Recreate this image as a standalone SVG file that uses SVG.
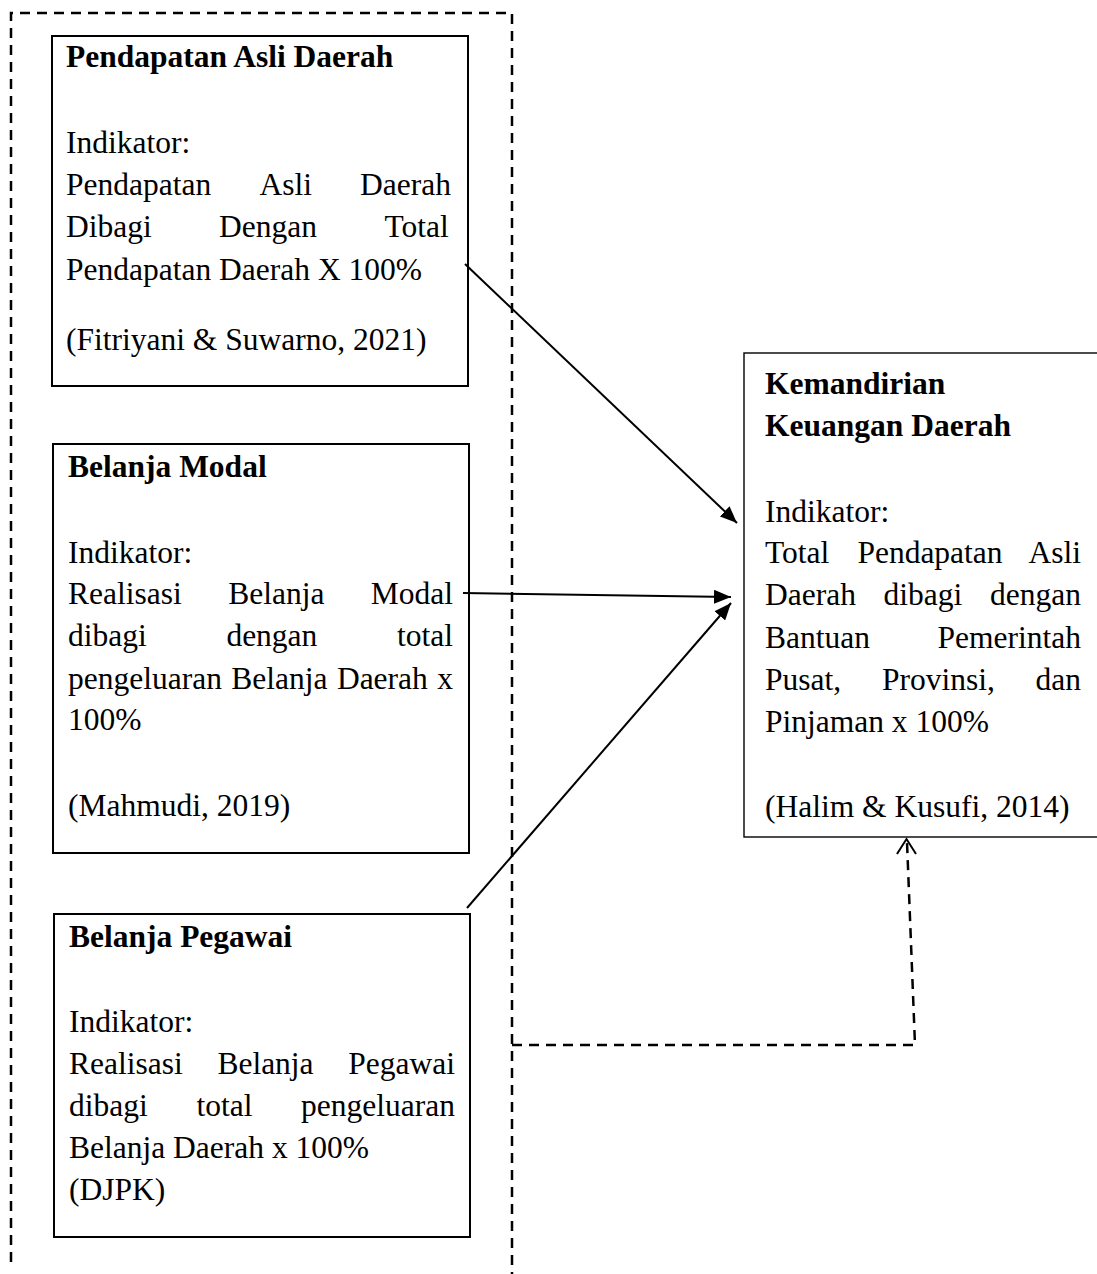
<svg xmlns="http://www.w3.org/2000/svg" width="1097" height="1274" viewBox="0 0 1097 1274">
<style>
  .box{fill:#fff;stroke:#000;stroke-width:2}
  .boxr{fill:#fff;stroke:#000;stroke-width:1.4}
  .dash{fill:none;stroke:#000;stroke-width:2.5;stroke-dasharray:10 7}
  .arr{fill:none;stroke:#000;stroke-width:2}
  text{font-family:"Liberation Serif","Times New Roman",serif;font-size:31.5px;fill:#000}
  .b{font-weight:bold}
</style>
<defs>
  <marker id="ah" markerUnits="userSpaceOnUse" markerWidth="18" markerHeight="14" refX="17" refY="7" orient="auto">
    <path d="M0,0 L17,7 L0,14 z" fill="#000"/>
  </marker>
</defs>
<rect width="1097" height="1274" fill="#fff"/>

<g id="frame">
  <path class="dash" d="M11,1262 V13 H512 V1274"/>
</g>

<g id="node-pad">
  <rect class="box" x="52" y="36" width="416" height="350"/>
  <text class="b" x="66" y="67">Pendapatan Asli Daerah</text>
  <text x="66" y="153">Indikator:</text>
  <text y="195"><tspan x="66">Pendapatan</tspan><tspan x="259.4">Asli</tspan><tspan x="360.1">Daerah</tspan></text>
  <text y="237"><tspan x="66">Dibagi</tspan><tspan x="219.1">Dengan</tspan><tspan x="384.5">Total</tspan></text>
  <text x="66" y="280">Pendapatan Daerah X 100%</text>
  <text x="66" y="350">(Fitriyani &amp; Suwarno, 2021)</text>
</g>

<g id="node-bm">
  <rect class="box" x="53" y="444" width="416" height="409"/>
  <text class="b" x="68" y="477">Belanja Modal</text>
  <text x="68" y="563">Indikator:</text>
  <text y="604"><tspan x="68">Realisasi</tspan><tspan x="228.2">Belanja</tspan><tspan x="370.8">Modal</tspan></text>
  <text y="646"><tspan x="68">dibagi</tspan><tspan x="226.4">dengan</tspan><tspan x="397">total</tspan></text>
  <text y="689"><tspan x="68">pengeluaran</tspan><tspan x="231.3">Belanja</tspan><tspan x="336.9">Daerah</tspan><tspan x="437.3">x</tspan></text>
  <text x="68" y="730">100%</text>
  <text x="68" y="816">(Mahmudi, 2019)</text>
</g>

<g id="node-bp">
  <rect class="box" x="54" y="914" width="416" height="323"/>
  <text class="b" x="69" y="947">Belanja Pegawai</text>
  <text x="69" y="1032">Indikator:</text>
  <text y="1074"><tspan x="69">Realisasi</tspan><tspan x="217.4">Belanja</tspan><tspan x="348.3">Pegawai</tspan></text>
  <text y="1116"><tspan x="69">dibagi</tspan><tspan x="196.4">total</tspan><tspan x="301.1">pengeluaran</tspan></text>
  <text x="69" y="1158">Belanja Daerah x 100%</text>
  <text x="69" y="1200">(DJPK)</text>
</g>

<g id="node-kkd">
  <rect class="boxr" x="744" y="353" width="360" height="484"/>
  <text class="b" x="765" y="394">Kemandirian</text>
  <text class="b" x="765" y="436">Keuangan Daerah</text>
  <text x="765" y="522">Indikator:</text>
  <text y="563"><tspan x="765">Total</tspan><tspan x="857.4">Pendapatan</tspan><tspan x="1028.5">Asli</tspan></text>
  <text y="605"><tspan x="765">Daerah</tspan><tspan x="883.6">dibagi</tspan><tspan x="990">dengan</tspan></text>
  <text y="648"><tspan x="765">Bantuan</tspan><tspan x="937.5">Pemerintah</tspan></text>
  <text y="690"><tspan x="765">Pusat,</tspan><tspan x="881.9">Provinsi,</tspan><tspan x="1035.5">dan</tspan></text>
  <text x="765" y="732">Pinjaman x 100%</text>
  <text x="765" y="817">(Halim &amp; Kusufi, 2014)</text>
</g>

<g id="connectors">
  <line class="arr" x1="465" y1="264" x2="737" y2="523" marker-end="url(#ah)"/>
  <line class="arr" x1="463" y1="593" x2="731" y2="597" marker-end="url(#ah)"/>
  <line class="arr" x1="467" y1="908" x2="731" y2="603" marker-end="url(#ah)"/>
  <path class="dash" d="M512,1045 H915 L907,842"/>
  <polyline class="arr" points="897,854 906.5,839 916,854" stroke-width="2.5"/>
</g>
</svg>
